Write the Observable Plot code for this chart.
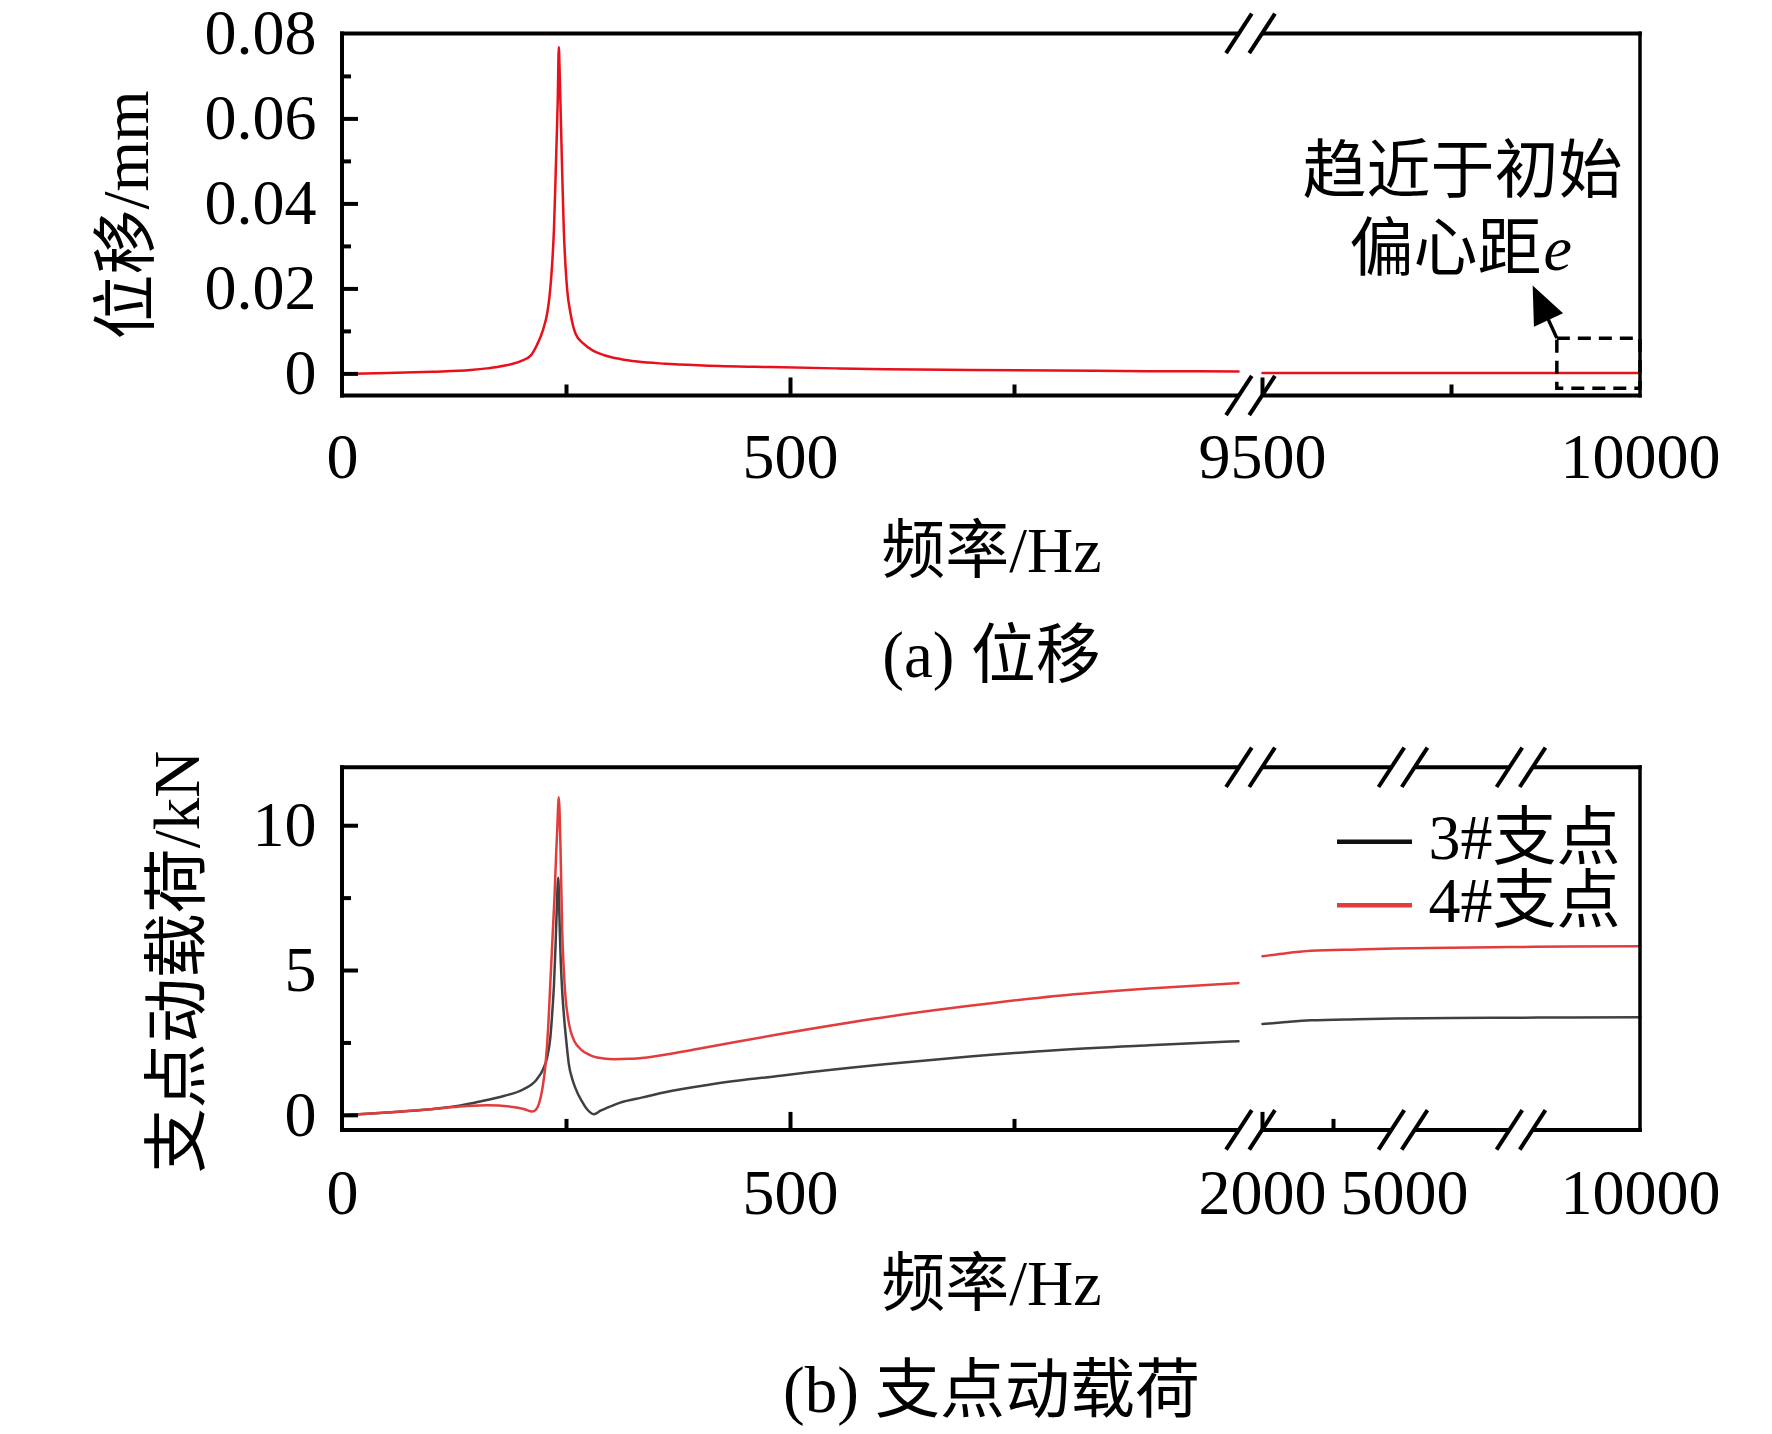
<!DOCTYPE html>
<html>
<head>
<meta charset="utf-8">
<script src="https://cdn.jsdelivr.net/npm/d3@7"></script>
<script src="https://cdn.jsdelivr.net/npm/@observablehq/plot@0.6"></script>
<style>
html, body { margin: 0; padding: 0; background: #fff; overflow: hidden; }
#chart svg { display: block; }
</style>
</head>
<body>
<div id="chart"></div>
<script>
// ---------------- DATA ----------------
// (a) displacement, mm
const freqA1 = [0, 50, 100, 143, 161.5, 180, 199, 210, 217, 224, 228.4, 231, 234, 236, 237.7, 239, 240.3, 241.4, 242.5, 244, 245.5, 247, 249, 250.8, 254.5, 260, 269, 280, 292, 310, 329, 360, 403, 478, 550, 607, 700, 796, 900, 1000];
const dispA1 = [0, 0.0002, 0.0005, 0.0009, 0.0013, 0.0019, 0.003, 0.0043, 0.0068, 0.0105, 0.0142, 0.0181, 0.0259, 0.034, 0.0455, 0.055, 0.0651, 0.0769, 0.07, 0.0573, 0.045, 0.0338, 0.025, 0.0197, 0.0142, 0.0095, 0.0071, 0.0054, 0.0044, 0.0035, 0.0029, 0.0024, 0.0020, 0.0016, 0.0013, 0.0011, 0.00093, 0.00078, 0.00065, 0.00055];
const freqA2 = [9500, 9750, 10000];
const dispA2 = [0.00022, 0.0002, 0.0002];

// (b) support dynamic load, kN
const freqB1_3 = [0, 50, 98, 130, 154, 180, 202, 217, 224, 228.4, 232, 234, 236, 237.7, 239, 240.8, 242, 243.3, 245, 247, 250, 252.6, 257, 262, 267, 273, 280.5, 288, 300, 310, 335, 358.6, 414, 489, 605, 700, 796, 900, 1000];
const load3_B1  = [0, 0.1, 0.21, 0.33, 0.48, 0.67, 0.9, 1.25, 1.6, 2.0, 2.7, 3.5, 4.5, 5.8, 7.0, 8.2, 7.0, 5.57, 4.4, 3.5, 2.5, 1.77, 1.2, 0.79, 0.5, 0.21, 0.04, 0.16, 0.32, 0.44, 0.62, 0.79, 1.08, 1.37, 1.76, 2.03, 2.25, 2.42, 2.56];
const freqB1_4 = [0, 50, 98, 135, 161.5, 187.5, 202.4, 211.7, 216, 219.1, 223, 226.6, 229.5, 232.1, 234.5, 236.6, 238.3, 239.6, 241.4, 243.3, 245.2, 247, 248.9, 251.5, 254.5, 259, 265.6, 275, 284.2, 302.8, 320, 340, 395.8, 488.8, 605, 700, 796, 900, 1000];
const load4_B1  = [0, 0.1, 0.21, 0.31, 0.35, 0.3, 0.22, 0.13, 0.2, 0.39, 0.9, 1.77, 3.0, 4.65, 6.2, 7.53, 8.9, 9.83, 10.98, 9.25, 6.38, 5.0, 4.07, 3.4, 2.92, 2.55, 2.29, 2.1, 2.0, 1.94, 1.95, 2.0, 2.29, 2.81, 3.39, 3.78, 4.12, 4.38, 4.57];
const freqB2   = [2000, 2500, 3021, 4000, 4778, 6000, 7193, 8500, 10000];
const load3_B2 = [3.15, 3.22, 3.28, 3.32, 3.34, 3.36, 3.37, 3.38, 3.39];
const load4_B2 = [5.49, 5.6, 5.68, 5.73, 5.76, 5.79, 5.81, 5.83, 5.84];

// tick labels / ticks
const xLabelsA = [0, 500, 9500, 10000];
const xMajorA = [500, 9500];
const xMinorA = [250, 750, 9750];
const yLabelsA = [0, 0.02, 0.04, 0.06, 0.08];
const yMajorA = [0, 0.02, 0.04, 0.06];
const yMinorA = [0.01, 0.03, 0.05, 0.07];

const xLabelsB = [0, 500, 2000, 5000, 10000];
const xMajorB = [500, 2000];
const xMinorB = [250, 750, 3500];
const yLabelsB = [0, 5, 10];
const yMajorB = [0, 5, 10];
const yMinorB = [2.5, 7.5];

const seriesNames = ["3#支点", "4#支点"];

// annotation (data coordinates)
const noteBox = {x1: 9890, x2: 10000, y1: -0.0035, y2: 0.0083};
const noteArrowTip = [9858, 0.0207];

// ---------------- LAYOUT (broken axes) ----------------
const posA = d3.scaleLinear().domain([0, 1000, 9500, 10000]).range([0, 896, 920, 1298]);
const posB = d3.scaleLinear().domain([0, 1000, 2000, 5000, 10000]).range([0, 896, 920, 1062, 1298]);
const breaksA = [908.5];
const breaksB = [908.5, 1061, 1179];

const FONT = "'Liberation Serif','Times New Roman','Noto Sans CJK SC',serif";
const RED_A = "#e8101a";
const RED_B = "#e23c3c";
const BLACK_B = "#404040";
const LEGEND_COLORS = ["#111111", RED_B];

function rows(freq, vals, pos, seg, series) {
  return freq.map((f, i) => ({u: pos(f), v: vals[i], seg, series}));
}

function frameDecor(breaks) {
  return (index, scales, values, dims) => {
    const L = dims.marginLeft, R = dims.width - dims.marginRight;
    const T = dims.marginTop, B = dims.height - dims.marginBottom;
    const g = d3.create("svg:g").attr("stroke", "black").attr("fill", "none");
    const bx = breaks.map(scales.x);
    const half = 11.6, sx = 12.85, sy = 19.7;
    for (const y0 of [T, B]) {
      let s = L - 2;
      for (const b of bx) {
        g.append("line").attr("x1", s).attr("x2", b - half).attr("y1", y0).attr("y2", y0).attr("stroke-width", 4);
        s = b + half;
      }
      g.append("line").attr("x1", s).attr("x2", R + 1.75).attr("y1", y0).attr("y2", y0).attr("stroke-width", 4);
      for (const b of bx) {
        for (const c of [b - half, b + half]) {
          g.append("line").attr("x1", c - sx).attr("y1", y0 + sy).attr("x2", c + sx).attr("y2", y0 - sy).attr("stroke-width", 4);
        }
      }
    }
    g.append("line").attr("x1", L).attr("x2", L).attr("y1", T - 2).attr("y2", B + 2).attr("stroke-width", 4);
    g.append("line").attr("x1", R).attr("x2", R).attr("y1", T - 2).attr("y2", B + 2).attr("stroke-width", 3.5);
    return g.node();
  };
}

function axisSet(pos, xLabels, xMajor, xMinor, yLabels, yMajor, yMinor, yFmt, xPad) {
  const xMap = new Map(xLabels.map(f => [pos(f), String(f)]));
  return [
    Plot.axisX({ticks: xMajor.map(pos), tickSize: -18, strokeWidth: 4, tickFormat: () => "", label: null}),
    Plot.axisX({ticks: xMinor.map(pos), tickSize: -11, strokeWidth: 4, tickFormat: () => "", label: null}),
    Plot.axisX({ticks: xLabels.map(pos), tickSize: 0, tickPadding: xPad, tickFormat: u => xMap.get(u), fontSize: 64, label: null}),
    Plot.axisY({ticks: yMajor, tickSize: -16, strokeWidth: 4, tickFormat: () => "", label: null}),
    Plot.axisY({ticks: yMinor, tickSize: -9, strokeWidth: 4, tickFormat: () => "", label: null}),
    Plot.axisY({ticks: yLabels, tickSize: 0, tickPadding: 26, tickFormat: yFmt, fontSize: 64, label: null})
  ];
}

// ---------------- PANEL (a) ----------------
const dataA = [...rows(freqA1, dispA1, posA, 1, "a"), ...rows(freqA2, dispA2, posA, 2, "a")];

const plotA = Plot.plot({
  width: 1772, height: 717,
  marginLeft: 342, marginRight: 132, marginTop: 33.4, marginBottom: 321.5,
  style: {fontFamily: FONT, background: "white", color: "black"},
  x: {domain: [0, 1298]},
  y: {domain: [-0.0052, 0.08]},
  marks: [
    Plot.line(dataA, {x: "u", y: "v", z: "seg", stroke: RED_A, strokeWidth: 2.5, curve: "monotone-x"}),
    Plot.rect([noteBox], {x1: d => posA(d.x1), x2: d => posA(d.x2), y1: "y1", y2: "y2", fill: "none", stroke: "black", strokeWidth: 3.5, strokeDasharray: "13,8"}),
    (index, scales) => {
      const x0 = scales.x(posA(noteBox.x1)), y0 = scales.y(noteBox.y2);
      const x1 = scales.x(posA(noteArrowTip[0])), y1 = scales.y(noteArrowTip[1]);
      const dx = x1 - x0, dy = y1 - y0, len = Math.hypot(dx, dy);
      const ux = dx / len, uy = dy / len, hl = 38, hw = 16;
      const bx = x1 - ux * hl, by = y1 - uy * hl;
      const g = d3.create("svg:g");
      g.append("line").attr("x1", x0).attr("y1", y0).attr("x2", bx + ux * 2).attr("y2", by + uy * 2).attr("stroke", "black").attr("stroke-width", 3.5);
      g.append("polygon").attr("fill", "black")
        .attr("points", [[x1, y1], [bx - uy * hw, by + ux * hw], [bx + uy * hw, by - ux * hw]].map(p => p.join(",")).join(" "));
      return g.node();
    },
    ...axisSet(posA, xLabelsA, xMajorA, xMinorA, yLabelsA, yMajorA, yMinorA, v => v === 0 ? "0" : v.toFixed(2), 37),
    frameDecor(breaksA),
    Plot.text(["位移/mm"], {text: d => d, frameAnchor: "left", rotate: -90, dx: -215, textAnchor: "middle", lineAnchor: "middle", fontSize: 65}),
    Plot.text(["频率/Hz"], {text: d => d, frameAnchor: "bottom", dy: 176, lineAnchor: "bottom", fontSize: 64}),
    Plot.text(["(a) 位移"], {text: d => d, frameAnchor: "bottom", dy: 281, lineAnchor: "bottom", fontSize: 65}),
    Plot.text(["趋近于初始"], {text: d => d, frameAnchor: "top-right", dx: -178, dy: 158, textAnchor: "middle", lineAnchor: "bottom", fontSize: 64}),
    Plot.text(["偏心距"], {text: d => d, frameAnchor: "top-right", dx: -99, dy: 236, textAnchor: "end", lineAnchor: "bottom", fontSize: 64}),
    Plot.text(["e"], {text: d => d, frameAnchor: "top-right", dx: -97, dy: 236, textAnchor: "start", lineAnchor: "bottom", fontSize: 64, fontStyle: "italic"})
  ]
});

// ---------------- PANEL (b) ----------------
const dataB = [
  ...rows(freqB1_3, load3_B1, posB, 1, seriesNames[0]),
  ...rows(freqB2, load3_B2, posB, 2, seriesNames[0]),
  ...rows(freqB1_4, load4_B1, posB, 3, seriesNames[1]),
  ...rows(freqB2, load4_B2, posB, 4, seriesNames[1])
];

const plotB = Plot.plot({
  width: 1772, height: 717,
  marginLeft: 342, marginRight: 132, marginTop: 50.3, marginBottom: 304.1,
  style: {fontFamily: FONT, background: "white", color: "black"},
  x: {domain: [0, 1298]},
  y: {domain: [-0.52, 12.0]},
  color: {domain: seriesNames, range: [BLACK_B, RED_B]},
  marks: [
    Plot.line(dataB, {x: "u", y: "v", z: "seg", stroke: "series", strokeWidth: 2.5, curve: "monotone-x"}),
    ...axisSet(posB, xLabelsB, xMajorB, xMinorB, yLabelsB, yMajorB, yMinorB, v => String(v), 38),
    frameDecor(breaksB),
    (index, scales, values, dims) => {
      const R = dims.width - dims.marginRight, T = dims.marginTop;
      const g = d3.create("svg:g");
      [74.4, 138].forEach((off, i) => {
        g.append("line").attr("x1", R - 303).attr("x2", R - 228).attr("y1", T + off).attr("y2", T + off)
          .attr("stroke", LEGEND_COLORS[i]).attr("stroke-width", 4.5);
      });
      return g.node();
    },
    Plot.text([seriesNames[0]], {text: d => d, frameAnchor: "top-right", dx: -212, dy: 91, textAnchor: "start", lineAnchor: "bottom", fontSize: 64}),
    Plot.text([seriesNames[1]], {text: d => d, frameAnchor: "top-right", dx: -212, dy: 154.5, textAnchor: "start", lineAnchor: "bottom", fontSize: 64}),
    Plot.text(["支点动载荷/kN"], {text: d => d, frameAnchor: "left", rotate: -90, dx: -164, dy: 13, textAnchor: "middle", lineAnchor: "middle", fontSize: 65}),
    Plot.text(["频率/Hz"], {text: d => d, frameAnchor: "bottom", dy: 175, lineAnchor: "bottom", fontSize: 64}),
    Plot.text(["(b) 支点动载荷"], {text: d => d, frameAnchor: "bottom", dy: 282, lineAnchor: "bottom", fontSize: 65})
  ]
});

const chart = document.getElementById("chart");
chart.appendChild(plotA);
chart.appendChild(plotB);
</script>
</body>
</html>
